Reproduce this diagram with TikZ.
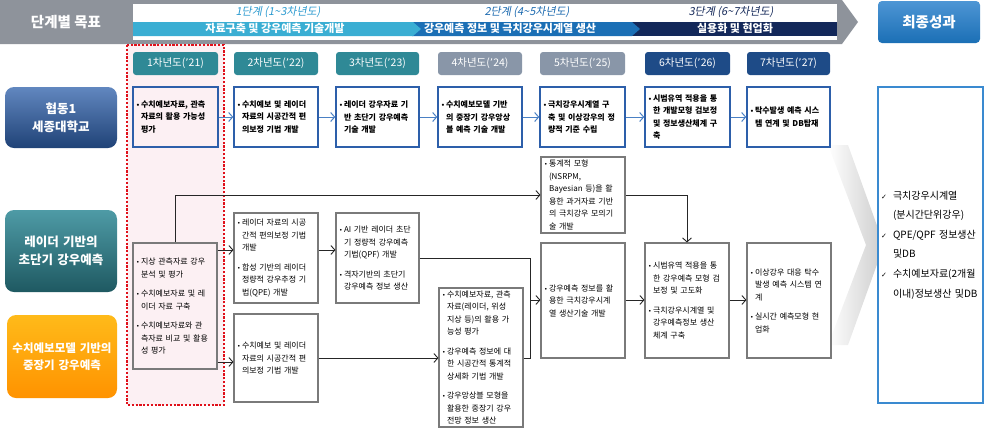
\documentclass[tikz,border=0pt]{standalone}
\usepackage{fontspec}
\setmainfont{Noto Sans CJK KR}
\newfontfamily\slantkr[FakeSlant=0.2]{Noto Sans CJK KR}
\newfontfamily\dejavu{DejaVu Sans}
\usetikzlibrary{arrows.meta}
\definecolor{hdrgray}{HTML}{8E939B}
\definecolor{band1}{HTML}{3AAED3}
\definecolor{band2}{HTML}{1B6FB5}
\definecolor{band3}{HTML}{13285A}
\definecolor{tit1}{HTML}{2D9BD0}
\definecolor{tit2}{HTML}{1C6AB0}
\definecolor{tit3}{HTML}{162A5A}
\definecolor{tabteal}{HTML}{2F8996}
\definecolor{tabgray}{HTML}{8996A8}
\definecolor{tabnavy}{HTML}{1E4B87}
\definecolor{boxblue}{HTML}{2D5FAA}
\definecolor{arrblue}{HTML}{4A80C4}
\definecolor{boxgray}{HTML}{7A7A7A}
\definecolor{finblue}{HTML}{3A8AD0}
\definecolor{pinkbg}{HTML}{FCF0F3}
\definecolor{reddot}{HTML}{E0101A}
\newcommand{\bx}[7]{%
 \pgfmathsetmacro\bxcx{(#2+#4)/2}\pgfmathsetmacro\bxcy{(#3+#5)/2}%
 \pgfmathsetmacro\bxw{#4-#2}\pgfmathsetmacro\bxh{#5-#3}\pgfmathsetmacro\bxtw{#4-#2-6}%
 \node[#6,minimum width=\bxw pt,minimum height=\bxh pt,text width=\bxtw pt] (#1) at (\bxcx,\bxcy) {#7};}
\newcommand{\bu}{\makebox[5pt][l]{{\dejavu\fontsize{6}{6}\selectfont •}}}
\newcommand{\ci}{\hspace*{5pt}}
\newcommand{\ck}{\makebox[12pt][l]{{\dejavu\fontsize{7}{7}\selectfont ✓}}}
\newcommand{\ap}{{\dejavu ’}}
\begin{document}
\begin{tikzpicture}[x=1pt,y=-1pt,
 tab/.style={rounded corners=3pt,text=white,inner sep=0pt,align=center,font=\fontsize{10.5}{12}\selectfont},
 bbox/.style={draw=boxblue,line width=1.4pt,align=left,inner xsep=3pt,inner ysep=0pt,font=\bfseries\fontsize{8}{12.5}\selectfont},
 gbox/.style={draw=boxgray,line width=1.1pt,align=left,inner xsep=3pt,inner ysep=0pt,font=\fontsize{8}{12.5}\selectfont},
 lbl/.style={rounded corners=9pt,text=white,align=center,inner sep=0pt,font=\bfseries\fontsize{12.5}{18}\selectfont},
 finbox/.style={draw=finblue,line width=1.8pt,fill=white,align=left,inner xsep=2pt,inner ysep=0pt,font=\fontsize{10}{19.6}\selectfont},
 conn/.style={draw=black!85,line width=0.9pt},
 arr/.style={conn,-{Straight Barb[length=4pt,width=9pt]}},
 barr/.style={draw=arrblue,line width=1pt,-{Straight Barb[length=4pt,width=9pt]}},
 hdr/.style={text=white,inner sep=0pt,font=\bfseries\fontsize{11}{12}\selectfont},
 tit/.style={inner sep=0pt,font=\slantkr\fontsize{11}{12}\selectfont}
]
\useasboundingbox (0,0) rectangle (988,432);
% header band
\fill[hdrgray] (0,0) -- (842,0) -- (858,22) -- (842,44) -- (0,44) -- cycle;
\node[text=white,inner sep=0pt,font=\bfseries\fontsize{14.5}{16}\selectfont] (goal) at (66,22) {단계별 목표};
\fill[white] (133,4) rectangle (837,40);
\fill[band3] (630,22) rectangle (837,36);
\fill[band2] (412,22) -- (632,22) -- (640,29) -- (632,36) -- (412,36) -- cycle;
\fill[band1] (133,22) -- (413,22) -- (421,29) -- (413,36) -- (133,36) -- cycle;
\node[tit,text=tit1] (t1) at (278,12.5) {1단계 (1\textasciitilde3차년도)};
\node[tit,text=tit2] (t2) at (527,12.5) {2단계 (4\textasciitilde5차년도)};
\node[tit,text=tit3] (t3) at (731,12.5) {3단계 (6\textasciitilde7차년도)};
\node[hdr] (s1) at (275,28.5) {자료구축 및 강우예측 기술개발};
\node[hdr] (s2) at (510,28.5) {강우예측 정보 및 극치강우시계열 생산};
\node[hdr] (s3) at (735,28.5) {실용화 및 현업화};
\bx{final}{878}{1}{980}{43}{rounded corners=4pt,top color=finblue!90!white,bottom color=band2,text=white,align=center,inner sep=0pt,font=\bfseries\fontsize{14.5}{16}\selectfont}{최종성과}
% pink highlight column
\fill[pinkbg] (127,45) rectangle (224,405);
\draw[reddot,line width=2.8pt,dash pattern=on 2.2pt off 1.6pt] (127,45) rectangle (224,405);
% year tabs
\bx{y1}{133}{52}{218}{75}{tab,fill=tabteal}{1차년도(\ap21)}
\bx{y2}{234}{52}{318}{75}{tab,fill=tabteal}{2차년도(\ap22)}
\bx{y3}{336}{52}{419}{75}{tab,fill=tabteal}{3차년도(\ap23)}
\bx{y4}{438}{52}{522}{75}{tab,fill=tabgray}{4차년도(\ap24)}
\bx{y5}{540}{52}{625}{75}{tab,fill=tabgray}{5차년도(\ap25)}
\bx{y6}{645}{52}{730}{75}{tab,fill=tabnavy}{6차년도(\ap26)}
\bx{y7}{747}{52}{830}{75}{tab,fill=tabnavy}{7차년도(\ap27)}
% left labels
\bx{l1}{5}{87}{117}{148}{lbl,top color=boxblue!75!white,bottom color=boxblue!70!black}{협동1\\세종대학교}
\bx{l2}{5}{210}{117}{292}{lbl,top color=tabteal!85!white,bottom color=tabteal!65!black}{레이더 기반의\\초단기 강우예측}
\bx{l3}{7}{315}{117}{398}{lbl,top color=orange!60!yellow!90!white,bottom color=orange!85!yellow,font=\bfseries\fontsize{11.5}{17}\selectfont}{수치예보모델 기반의\\중장기 강우예측}
% big faint chevron
\shade[left color=white,right color=gray!40] (828,145) -- (848,145) -- (884,245) -- (848,345) -- (828,345) -- (866,245) -- cycle;
% row 1 boxes
\bx{r1}{133}{87}{218}{147}{bbox}{\bu 수치예보자료, 관측\\\ci 자료의 활용 가능성\\\ci 평가}
\bx{r2}{234}{87}{318}{147}{bbox,fill=white}{\bu 수치예보 및 레이더\\\ci 자료의 시공간적 편\\\ci 의보정 기법 개발}
\bx{r3}{336}{87}{419}{147}{bbox,fill=white}{\bu 레이더 강우자료 기\\\ci 반 초단기 강우예측\\\ci 기술 개발}
\bx{r4}{438}{87}{522}{147}{bbox,fill=white}{\bu 수치예보모델 기반\\\ci 의 중장기 강우앙상\\\ci 블 예측 기술 개발}
\bx{r5}{540}{87}{625}{147}{bbox,fill=white}{\bu 극치강우시계열 구\\\ci 축 및 이상강우의 정\\\ci 량적 기준 수립}
\bx{r6}{645}{87}{730}{147}{bbox,fill=white}{\bu 시범유역 적용을 통\\\ci 한 개발모형 검보정\\\ci 및 정보생산체계 구\\\ci 축}
\bx{r7}{747}{87}{830}{147}{bbox,fill=white}{\bu 탁수발생 예측 시스\\\ci 템 연계 및 DB탑재}
\draw[barr] (r1.east) -- (r2.west);
\draw[barr] (r2.east) -- (r3.west);
\draw[barr] (r3.east) -- (r4.west);
\draw[barr] (r4.east) -- (r5.west);
\draw[barr] (r5.east) -- (r6.west);
\draw[barr] (r6.east) -- (r7.west);
% final results box
\bx{fin}{878}{87}{983}{403}{finbox}{\ck 극치강우시계열\\\hspace*{12pt}(분시간단위강우)\\\ck QPE/QPF 정보생산\\\hspace*{12pt}및DB\\\ck 수치예보자료(2개월\\\hspace*{12pt}이내)정보생산 및DB}
% lower boxes
\bx{b1}{133}{243}{217}{369}{gbox}{\bu 지상 관측자료 강우\\\ci 분석 및 평가\\[7pt]\bu 수치예보자료 및 레\\\ci 이더 자료 구축\\[7pt]\bu 수치예보자료와 관\\\ci 측자료 비교 및 활용\\\ci 성 평가}
\bx{b2a}{234}{213}{318}{303}{gbox,fill=white}{\bu 레이더 자료의 시공\\\ci 간적 편의보정 기법\\\ci 개발\\[7pt]\bu 합성 기반의 레이더\\\ci 정량적 강우추정 기\\\ci 법(QPE) 개발}
\bx{b2b}{234}{314}{318}{402}{gbox,fill=white}{\bu 수치예보 및 레이더\\\ci 자료의 시공간적 편\\\ci 의보정 기법 개발}
\bx{b3}{336}{213}{419}{303}{gbox,fill=white}{\bu AI 기반 레이더 초단\\\ci 기 정량적 강우예측\\\ci 기법(QPF) 개발\\[7pt]\bu 격자기반의 초단기\\\ci 강우예측 정보 생산}
\bx{b4}{439}{288}{523}{427}{gbox,fill=white}{\bu 수치예보자료, 관측\\\ci 자료(레이더, 위성\\\ci 지상 등)의 활용 가\\\ci 능성 평가\\[7pt]\bu 강우예측 정보에 대\\\ci 한 시공간적 통계적\\\ci 상세화 기법 개발\\[7pt]\bu 강우앙상블 모형을\\\ci 활용한 중장기 강우\\\ci 전망 정보 생산}
\bx{b5a}{541}{157}{625}{233}{gbox,fill=white}{\bu 통계적 모형\\\ci (NSRPM,\\\ci Bayesian 등)을 활\\\ci 용한 과거자료 기반\\\ci 의 극치강우 모의기\\\ci 술 개발}
\bx{b5b}{541}{243}{625}{358}{gbox,fill=white}{\bu 강우예측 정보를 활\\\ci 용한 극치강우시계\\\ci 열 생산기술 개발}
\bx{b6}{645}{243}{729}{358}{gbox,fill=white}{\bu 시범유역 적용을 통\\\ci 한 강우예측 모형 검\\\ci 보정 및 고도화\\[7pt]\bu 극치강우시계열 및\\\ci 강우예측정보 생산\\\ci 체계 구축}
\bx{b7}{747}{243}{831}{358}{gbox,fill=white}{\bu 이상강우 대응 탁수\\\ci 발생 예측 시스템 연\\\ci 계\\[7pt]\bu 실시간 예측모형 현\\\ci 업화}
% connectors
\coordinate (j) at (530,300);
\draw[arr] (b1.east |- 0,250) -- (b2a.west |- 0,250);
\draw[arr] (b1.east |- 0,362) -- (b2b.west |- 0,362);
\draw[arr] (b1.north) |- (b5a.west);
\draw[arr] (b2a.east |- 0,250) -- (b3.west |- 0,250);
\draw[arr] (b2b.east) -- (b4.west |- b2b.east);
\draw[conn] (b3.east) -| (j);
\draw[conn] (b4.east |- 0,358) -| (j);
\draw[arr] (j) -- (b5b.west |- j);
\draw[arr] (b5a.east) -| (b6.north);
\draw[arr] (b5b.east |- j) -- (b6.west |- j);
\draw[arr] (b6.east |- j) -- (b7.west |- j);
\end{tikzpicture}
\end{document}
